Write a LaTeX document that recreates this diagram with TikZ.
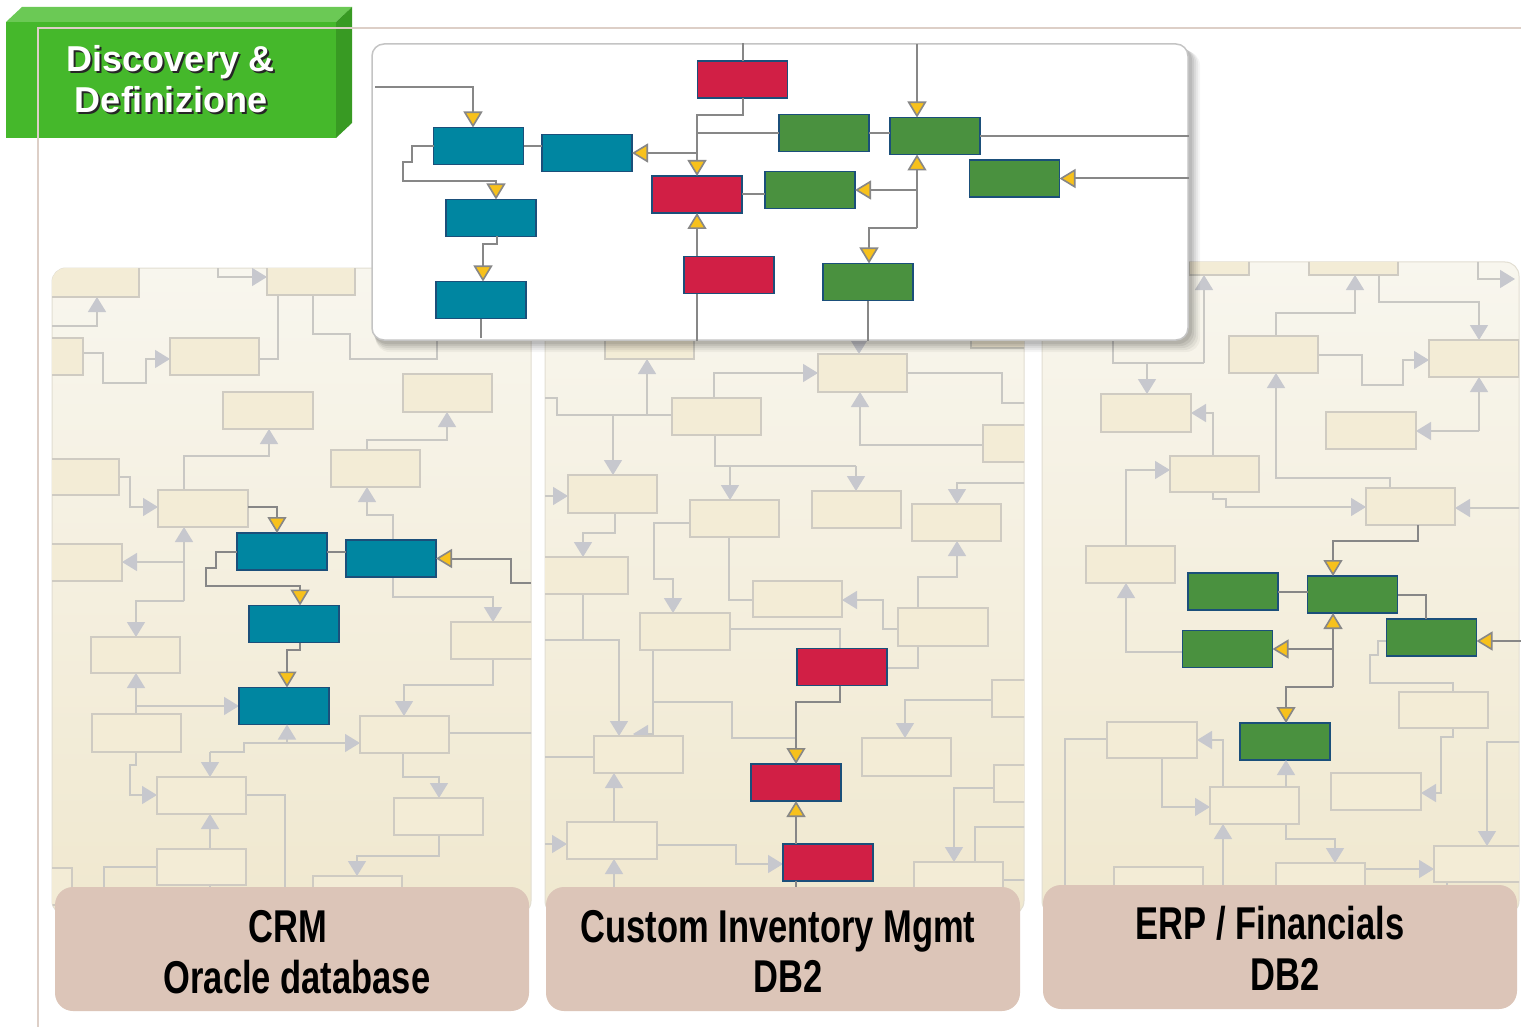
\documentclass[tikz,border=0pt]{standalone}
\usepackage{fontspec}
\setmainfont{Liberation Sans}
\usepackage{graphicx}
\usetikzlibrary{arrows.meta}
\definecolor{tealc}{HTML}{0086A1}
\definecolor{redc}{HTML}{D11F45}
\definecolor{greenc}{HTML}{4A913F}
\definecolor{boxedge}{HTML}{1B4F7A}
\definecolor{conncol}{HTML}{878787}
\definecolor{yel}{HTML}{F7C11C}
\definecolor{fadeline}{HTML}{C9C8C4}
\definecolor{fadearrow}{HTML}{C7C8CE}
\definecolor{fadefill}{HTML}{F3ECD6}
\definecolor{fadeedge}{HTML}{CFCBC2}
\definecolor{paneltop}{HTML}{F8F6EE}
\definecolor{panelbot}{HTML}{F0E8CF}
\definecolor{paneledge}{HTML}{E2DED2}
\definecolor{lblfill}{HTML}{DCC5B8}
\definecolor{gfront}{HTML}{45B82B}
\definecolor{gtop}{HTML}{6BC955}
\definecolor{gright}{HTML}{389A23}
\definecolor{thinln}{HTML}{DDCFC7}
\definecolor{popedge}{HTML}{C4C4C4}
\tikzset{
 cbox/.style={draw=boxedge, line width=1.8pt, minimum width=90pt, minimum height=37pt, inner sep=0pt, outer sep=0pt},
 tealbox/.style={cbox, fill=tealc},
 redbox/.style={cbox, fill=redc},
 grnbox/.style={cbox, fill=greenc},
 conn/.style={draw=conncol, line width=2pt},
 yarr/.style={conn, -{Triangle[length=16pt, width=19pt, fill=yel, line width=1.6pt]}},
 fline/.style={draw=fadeline, line width=1.5pt},
 farr/.style={fline, -{Triangle[length=15pt, width=18pt, color=fadearrow]}},
 fbox/.style={draw=fadeedge, fill=fadefill, line width=1.5pt},
 lblbox/.style={fill=lblfill, rounded corners=18pt, minimum width=474pt, minimum height=124pt, inner sep=0pt},
 lbltext/.style={anchor=base, inner sep=0pt, font=\bfseries\fontsize{46}{52}\selectfont},
 hdrtext/.style={anchor=base, inner sep=0pt, font=\bfseries\fontsize{36}{41}\selectfont},
 popupbox/.style={draw=popedge, line width=1.5pt, fill=white, rounded corners=12pt, minimum width=816pt, minimum height=296pt, inner sep=0pt},
}
\begin{document}
\begin{tikzpicture}[x=1pt,y=-1pt]
\useasboundingbox (0,0) rectangle (1521,1027);
\fill[white] (0,0) rectangle (1521,1027);

% ---------- green header ----------
\fill[gfront] (6,22) rectangle (336,138);
\fill[gtop] (6,22) -- (22,7) -- (352,7) -- (336,22) -- cycle;
\fill[gright] (336,22) -- (352,7) -- (352,123) -- (336,138) -- cycle;
\node[hdrtext, text=black!85] (h1s) at (173,74) {Discovery \&};
\node[hdrtext, text=white] (h1) at (171,72) {Discovery \&};
\node[hdrtext, text=black!85] (h2s) at (173,115) {Definizione};
\node[hdrtext, text=white] (h2) at (171,113) {Definizione};
\draw[thinln, line width=1.5pt] (38,1027) -- (38,28) -- (1521,28);

% ---------- panel 1 ----------
\shade[top color=paneltop, bottom color=panelbot, rounded corners=14pt] (52,268) rectangle (531,915);
\draw[paneledge, line width=1pt, rounded corners=14pt] (52,268) rectangle (531,915);
\begin{scope}
\clip[rounded corners=14pt] (52,268) rectangle (531,915);
\draw[farr] (52,326) -- (97,326) -- (97,297);
\draw[farr] (218,255) -- (218,277) -- (267,277);
\draw[farr] (83,353) -- (103,353) -- (103,383) -- (146,383) -- (146,359) -- (170,359);
\draw[fline] (259,359) -- (278,359) -- (278,295);
\draw[fline] (313,295) -- (313,334) -- (350,334) -- (350,359) -- (437,359) -- (437,340);
\draw[farr] (184,490) -- (184,456) -- (269,456) -- (269,429);
\draw[farr] (367,450) -- (367,440) -- (447,440) -- (447,412);
\draw[farr] (119,477) -- (130,477) -- (130,507) -- (158,507);
\draw[farr] (184,601) -- (184,527);
\draw[farr] (184,562) -- (122,562);
\draw[farr] (184,601) -- (136,601) -- (136,637);
\draw[farr] (393,540) -- (393,515) -- (367,515) -- (367,487);
\draw[farr] (393,577) -- (393,597) -- (493,597) -- (493,622);
\draw[farr] (136,714) -- (136,673);
\draw[farr] (136,706) -- (239,706);
\draw[farr] (136,752) -- (136,765) -- (130,765) -- (130,795) -- (157,795);
\draw[fline] (210,752) -- (244,752) -- (244,743) -- (287,743);
\draw[farr] (210,752) -- (210,777);
\draw[farr] (287,743) -- (360,743);
\draw[farr] (210,849) -- (210,814);
\draw[fline] (246,795) -- (285,795) -- (285,925);
\draw[fline] (157,867) -- (104,867) -- (104,925);
\draw[farr] (493,659) -- (493,685) -- (404,685) -- (404,716);
\draw[fline] (449,733) -- (540,733);
\draw[farr] (403,753) -- (403,777) -- (439,777) -- (439,798);
\draw[farr] (439,835) -- (439,856) -- (357,856) -- (357,876);
\draw[fline] (210,885) -- (210,925);
\foreach \a/\b/\c/\d in {40/255/139/297, 267/255/355/295, 40/338/83/375, 170/338/259/375, 223/392/313/429, 403/374/492/412, 331/450/420/487, 40/459/119/495, 158/490/248/527, 40/544/122/581, 91/637/180/673, 92/714/181/752, 157/777/246/814, 157/849/246/885, 360/716/449/753, 451/622/540/659, 394/798/483/835, 313/876/402/913, 40/868/72/905}
  \draw[fbox] (\a,\b) rectangle (\c,\d);
\end{scope}

% ---------- panel 2 ----------
\shade[top color=paneltop, bottom color=panelbot, rounded corners=14pt] (545,262) rectangle (1024,915);
\draw[paneledge, line width=1pt, rounded corners=14pt] (545,262) rectangle (1024,915);
\begin{scope}
\clip[rounded corners=14pt] (545,262) rectangle (1024,915);
\draw[farr] (859,335) -- (859,354);
\draw[fline] (1030,403) -- (1002,403) -- (1002,373) -- (907,373);
\draw[farr] (714,398) -- (714,373) -- (818,373);
\draw[farr] (983,445) -- (860,445) -- (860,392);
\draw[fline] (540,398) -- (557,398) -- (557,415) -- (672,415);
\draw[farr] (647,415) -- (647,359);
\draw[farr] (613,415) -- (613,475);
\draw[farr] (540,496) -- (568,496);
\draw[fline] (715,435) -- (715,466) -- (856,466);
\draw[farr] (856,466) -- (856,491);
\draw[farr] (730,466) -- (730,500);
\draw[farr] (615,513) -- (615,533) -- (583,533) -- (583,557);
\draw[farr] (1030,483) -- (957,483) -- (957,504);
\draw[farr] (690,523) -- (654,523) -- (654,579) -- (673,579) -- (673,613);
\draw[fline] (729,537) -- (729,600) -- (753,600);
\draw[farr] (898,629) -- (883,629) -- (883,600) -- (842,600);
\draw[farr] (918,608) -- (918,577) -- (957,577) -- (957,541);
\draw[fline] (583,594) -- (583,640);
\draw[farr] (540,640) -- (619,640) -- (619,736);
\draw[farr] (653,650) -- (653,734) -- (633,734);
\draw[fline] (654,702) -- (732,702) -- (732,738) -- (795,738);
\draw[fline] (730,629) -- (840,629) -- (840,648);
\draw[fline] (887,668) -- (918,668) -- (918,646);
\draw[fline] (540,757) -- (594,757);
\draw[farr] (614,822) -- (614,773);
\draw[farr] (992,700) -- (905,700) -- (905,738);
\draw[farr] (994,788) -- (954,788) -- (954,862);
\draw[fline] (975,862) -- (975,827) -- (1030,827);
\draw[farr] (657,845) -- (736,845) -- (736,864) -- (783,864);
\draw[farr] (540,844) -- (567,844);
\draw[farr] (614,905) -- (614,859);
\draw[fline] (1003,880) -- (1030,880);
\foreach \a/\b/\c/\d in {605/322/694/359, 818/354/907/392, 672/398/761/435, 983/425/1072/462, 568/475/657/513, 690/500/779/537, 812/491/901/528, 912/504/1001/541, 500/557/628/594, 753/581/842/617, 640/613/730/650, 898/608/988/646, 594/736/683/773, 862/738/951/776, 992/680/1080/717, 994/765/1080/802, 567/822/657/859, 914/862/1003/899, 971/320/1060/348}
  \draw[fbox] (\a,\b) rectangle (\c,\d);
\end{scope}

% ---------- panel 3 ----------
\shade[top color=paneltop, bottom color=panelbot, rounded corners=14pt] (1042,262) rectangle (1519,915);
\draw[paneledge, line width=1pt, rounded corners=14pt] (1042,262) rectangle (1519,915);
\begin{scope}
\clip[rounded corners=14pt] (1042,262) rectangle (1519,915);
\draw[fline] (1113,335) -- (1113,363) -- (1204,363);
\draw[farr] (1204,363) -- (1204,275);
\draw[farr] (1147,363) -- (1147,394);
\draw[farr] (1276,336) -- (1276,313) -- (1355,313) -- (1355,275);
\draw[farr] (1379,275) -- (1379,302) -- (1479,302) -- (1479,340);
\draw[farr] (1478,255) -- (1478,279) -- (1515,279);
\draw[farr] (1318,355) -- (1362,355) -- (1362,385) -- (1403,385) -- (1403,360) -- (1429,360);
\draw[farr] (1479,431) -- (1479,377);
\draw[farr] (1479,431) -- (1416,431);
\draw[farr] (1390,488) -- (1390,478) -- (1276,478) -- (1276,373);
\draw[farr] (1213,456) -- (1213,413) -- (1191,413);
\draw[farr] (1126,546) -- (1126,470) -- (1170,470);
\draw[farr] (1213,492) -- (1213,499) -- (1226,499) -- (1226,507) -- (1366,507);
\draw[farr] (1530,508) -- (1455,508);
\draw[farr] (1183,652) -- (1126,652) -- (1126,583);
\draw[fline] (1387,641) -- (1378,641) -- (1378,655) -- (1370,655) -- (1370,683) -- (1453,683) -- (1453,692);
\draw[farr] (1453,728) -- (1453,737) -- (1441,737) -- (1441,793) -- (1421,793);
\draw[farr] (1530,742) -- (1487,742) -- (1487,846);
\draw[fline] (1065,925) -- (1065,739) -- (1107,739);
\draw[farr] (1162,758) -- (1162,807) -- (1210,807);
\draw[farr] (1223,787) -- (1223,740) -- (1197,740);
\draw[farr] (1286,824) -- (1286,839) -- (1335,839) -- (1335,863);
\draw[farr] (1223,910) -- (1223,824);
\draw[farr] (1365,869) -- (1434,869);
\draw[fline] (1447,882) -- (1447,910);
\foreach \a/\b/\c/\d in {1189/240/1249/275, 1309/240/1398/275, 1229/336/1318/373, 1429/340/1519/377, 1101/394/1191/432, 1326/412/1416/449, 1170/456/1259/492, 1366/488/1455/525, 1086/546/1175/583, 1107/722/1197/758, 1210/787/1299/824, 1399/692/1488/728, 1331/773/1421/810, 1434/846/1523/882, 1276/863/1365/900, 1114/867/1203/904}
  \draw[fbox] (\a,\b) rectangle (\c,\d);
\end{scope}

% ---------- panel 1 coloured ----------
\node[tealbox] (pA) at (282,551.5) {};
\node[tealbox] (pB) at (391,558.5) {};
\node[tealbox] (pC) at (294,624) {};
\node[tealbox] (pD) at (284,706) {};
\coordinate (pAin) at (248,507);
\coordinate (pBin) at (531,583);
\draw[yarr] (pAin) -| ([xshift=-5pt]pA.north);
\draw[yarr] (pA.west) -- (216,551.5) -- (216,568) -- (206,568) -- (206,586) -| ([xshift=6pt]pC.north);
\draw[conn] (pA.east) -- (pA.east -| pB.west);
\draw[yarr] (pBin) -- (511,583) |- (pB.east);
\draw[yarr] ([xshift=6pt]pC.south) -- ++(0,7) -| ([xshift=3pt]pD.north);
\draw[farr] (287,743) -- ([xshift=3pt]pD.south);

% ---------- panel 2 coloured ----------
\node[redbox] (qA) at (842,667) {};
\node[redbox] (qB) at (796,782.5) {};
\node[redbox] (qC) at (828,862.5) {};
\draw[yarr] ([xshift=-2pt]qA.south) -- ++(0,16) -| (qB.north);
\draw[yarr] (qB.south |- qC.north) -- (qB.south);
\draw[conn] (qB.south |- qC.south) -- ++(0,10);

% ---------- panel 3 coloured ----------
\node[grnbox] (rA) at (1233,591.5) {};
\node[grnbox] (rB) at (1352.5,594.5) {};
\node[grnbox] (rC) at (1431.5,637.5) {};
\node[grnbox] (rD) at (1227.5,649) {};
\node[grnbox] (rE) at (1285,741.5) {};
\coordinate (rin) at (1418,525);
\coordinate (rCin) at (1521,641);
\coordinate (rhub) at (1333,687);
\draw[yarr] (rin) -- (1418,541) -| ([xshift=-19.5pt]rB.north);
\draw[conn] (rA.east) -- (rA.east -| rB.west);
\draw[conn] (rB.east) -| ([xshift=-5.5pt]rC.north);
\draw[yarr] (rCin) -- (rCin -| rC.east);
\draw[yarr] (rhub) -- (rhub |- rB.south);
\draw[yarr] (rhub |- rD.east) -- (rD.east);
\draw[yarr] (rhub) -| ([xshift=1pt]rE.north);
\draw[farr] (1286,787) -- ([xshift=1pt]rE.south);

% ---------- labels ----------
\node[lblbox] (lab1) at (292,949) {};
\node[lblbox] (lab2) at (783,949) {};
\node[lblbox] (lab3) at (1280,947) {};
\node[lbltext] (t1a) at (288,942) {\scalebox{0.75}[1]{CRM}};
\node[lbltext] (t1b) at (297,993) {\scalebox{0.75}[1]{Oracle database}};
\node[lbltext] (t2a) at (778,942) {\scalebox{0.75}[1]{Custom Inventory Mgmt}};
\node[lbltext] (t2b) at (788,992) {\scalebox{0.75}[1]{DB2}};
\node[lbltext] (t3a) at (1270,939) {\scalebox{0.75}[1]{ERP / Financials}};
\node[lbltext] (t3b) at (1285,990) {\scalebox{0.75}[1]{DB2}};

% ---------- popup ----------
\foreach \s/\o in {12/0.04, 10/0.05, 8/0.06, 6/0.07, 4/0.08}
  \fill[black, opacity=\o, rounded corners=14pt] (372+0.3*\s,44+0.6*\s) rectangle (1188+\s,340+\s);
\node[popupbox] (popup) at (780,192) {};
\node[tealbox] (T1) at (478.5,146) {};
\node[tealbox] (T2) at (587,153) {};
\node[tealbox] (T3) at (491,218) {};
\node[tealbox] (T4) at (481,300) {};
\node[redbox] (R1) at (742.5,79.5) {};
\node[redbox] (R2) at (697,194.5) {};
\node[redbox] (R3) at (729,275) {};
\node[grnbox] (G1) at (824,133) {};
\node[grnbox] (G2) at (935,136) {};
\node[grnbox] (G3) at (810,190) {};
\node[grnbox] (G4) at (1014.5,178.5) {};
\node[grnbox] (G5) at (868,282) {};
\coordinate (pL) at (375,87);
\coordinate (gtop) at (917,44);
\coordinate (ghub) at (917,228);
\draw[yarr] (pL) -| ([xshift=-5.5pt]T1.north);
\draw[yarr] (T1.west) -- (412,146) -- (412,162) -- (403,162) -- (403,181) -| ([xshift=5pt]T3.north);
\draw[conn] (T1.east) -- (T1.east -| T2.west);
\draw[yarr] ([xshift=6pt]T3.south) -- ++(0,8) -| ([xshift=2pt]T4.north);
\draw[conn] (T4.south) -- ++(0,19);
\draw[conn] (R1.north) -- (R1.north |- popup.north);
\draw[yarr] (R1.south) -- ++(0,17) -| (R2.north);
\draw[conn] (R2.north |- G1.west) -- (G1.west);
\draw[yarr] (R2.north |- T2.east) -- (T2.east);
\draw[conn] (R2.east) -- (R2.east -| G3.west);
\draw[yarr] (R3.north -| R2.south) -- (R2.south);
\draw[conn] (R3.south -| R2.south) -- (R2.south |- popup.south);
\draw[yarr] (gtop) -- (gtop |- G2.north);
\draw[conn] (G1.east) -- (G1.east -| G2.west);
\draw[conn] (G2.east) -- (G2.east -| popup.east);
\draw[yarr] (G4.east -| popup.east) -- (G4.east);
\draw[yarr] (ghub) -- (ghub |- G2.south);
\draw[yarr] (ghub |- G3.east) -- (G3.east);
\draw[yarr] (ghub) -| ([xshift=1pt]G5.north);
\draw[conn] (G5.south) -- (G5.south |- popup.south);
\end{tikzpicture}
\end{document}
